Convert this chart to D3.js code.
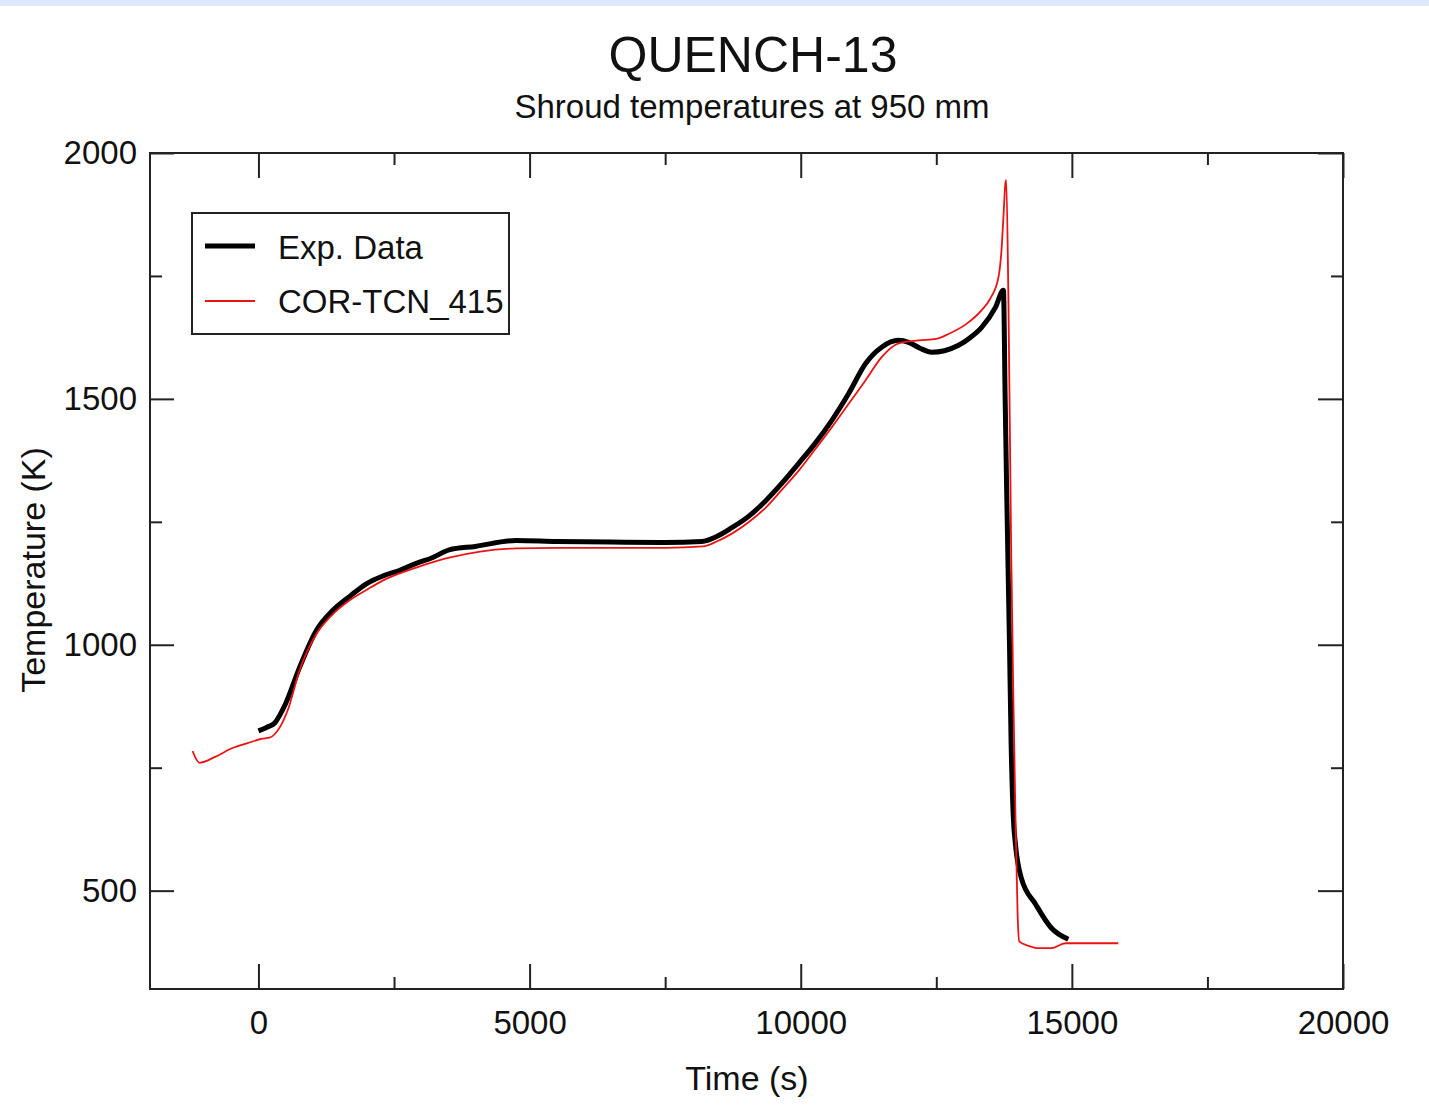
<!DOCTYPE html>
<html>
<head>
<meta charset="utf-8">
<script src="https://cdn.jsdelivr.net/npm/d3@7"></script>
<style>
  body { margin: 0; background: #fff; }
  text { font-family: "Liberation Sans", Arial, sans-serif; fill: #111; }
</style>
</head>
<body>
<div id="chart"></div>
<script>
// chart values
var expTime = [0, 150, 300, 500, 755, 1068, 1363, 1700, 1990, 2300, 2597, 2900, 3204, 3517, 4000, 4751, 5500, 6500, 7500, 8177, 8450, 8730, 9050, 9355, 9650, 9963, 10270, 10571, 10884, 11197, 11492, 11805, 11989, 12200, 12413, 12650, 12910, 13130, 13333, 13591, 13738, 13770, 13800, 13850, 13880, 13920, 13959, 14070, 14328, 14622, 14935];
var expTemp = [825, 832, 841, 880, 953, 1029, 1069, 1100, 1124, 1140, 1151, 1165, 1177, 1193, 1200, 1212, 1210, 1209, 1208, 1210, 1220, 1238, 1262, 1293, 1328, 1369, 1410, 1456, 1511, 1572, 1605, 1619, 1615, 1603, 1595, 1598, 1609, 1625, 1645, 1686, 1721, 1500, 1300, 1000, 800, 650, 595, 525, 473, 424, 401];

var corTime = [-1215, -1150, -1087, -800, -479, -200, 74, 203, 387, 550, 755, 1068, 1350, 1676, 2000, 2284, 2600, 2910, 3517, 4751, 5500, 6500, 7500, 8200, 8450, 8730, 9050, 9355, 9650, 9963, 10270, 10571, 10884, 11197, 11492, 11805, 12173, 12500, 12726, 13050, 13333, 13500, 13646, 13702, 13738, 13775, 13790, 13830, 13880, 13920, 13960, 14000, 14030, 14200, 14383, 14622, 14880, 15200, 15856];
var corTemp = [784, 768, 760, 772, 790, 800, 809, 811, 831, 870, 947, 1022, 1060, 1090, 1112, 1130, 1145, 1157, 1177, 1196, 1197, 1197, 1197, 1200, 1210, 1226, 1250, 1279, 1315, 1354, 1398, 1442, 1490, 1538, 1585, 1613, 1619, 1622, 1632, 1652, 1680, 1705, 1747, 1802, 1870, 1939, 1945, 1700, 1200, 900, 650, 450, 397, 388, 383, 383, 393, 393, 393];

var xMajor = [0, 5000, 10000, 15000, 20000];
var xMinor = [2500, 7500, 12500, 17500];
var yMajor = [500, 1000, 1500, 2000];
var yMinor = [750, 1250, 1750];

var expData = expTime.map(function(t, i) { return [t, expTemp[i]]; });
var corData = corTime.map(function(t, i) { return [t, corTemp[i]]; });

// set the dimensions and margins of the graph
var margin = {top: 153, right: 86, bottom: 130, left: 150},
    width = 1429 - margin.left - margin.right,
    height = 1119 - margin.top - margin.bottom;

var svgRoot = d3.select("#chart")
  .append("svg")
    .attr("width", 1429)
    .attr("height", 1119);

// light band at the very top of the screenshot
svgRoot.append("rect")
    .attr("x", 0).attr("y", 0)
    .attr("width", 1429).attr("height", 6)
    .style("fill", "#dde9fb");

var svg = svgRoot.append("g")
    .attr("transform", "translate(" + margin.left + "," + margin.top + ")");

var x = d3.scaleLinear().domain([-2000, 20000]).range([0, width]);
var y = d3.scaleLinear().domain([300, 2000]).range([height, 0]);

// axes, ticks inward on all four sides
function tickFmt(d) { return d; }

svg.append("g")
    .attr("class", "axis")
    .attr("transform", "translate(0," + height + ")")
    .call(d3.axisBottom(x).tickValues(xMajor).tickSize(-25).tickPadding(22).tickFormat(tickFmt));
svg.append("g")
    .attr("class", "axis")
    .attr("transform", "translate(0," + height + ")")
    .call(d3.axisBottom(x).tickValues(xMinor).tickSize(-12).tickFormat(""));
svg.append("g")
    .attr("class", "axis")
    .call(d3.axisTop(x).tickValues(xMajor).tickSize(-25).tickFormat(""));
svg.append("g")
    .attr("class", "axis")
    .call(d3.axisTop(x).tickValues(xMinor).tickSize(-12).tickFormat(""));

svg.append("g")
    .attr("class", "axis")
    .call(d3.axisLeft(y).tickValues(yMajor).tickSize(-24).tickPadding(13).tickFormat(tickFmt));
svg.append("g")
    .attr("class", "axis")
    .call(d3.axisLeft(y).tickValues(yMinor).tickSize(-12).tickFormat(""));
svg.append("g")
    .attr("class", "axis")
    .attr("transform", "translate(" + width + ",0)")
    .call(d3.axisRight(y).tickValues(yMajor).tickSize(-25).tickFormat(""));
svg.append("g")
    .attr("class", "axis")
    .attr("transform", "translate(" + width + ",0)")
    .call(d3.axisRight(y).tickValues(yMinor).tickSize(-12).tickFormat(""));

svg.selectAll(".axis path.domain").remove();
svg.selectAll(".axis line").style("stroke", "#222").style("stroke-width", 2);
svg.selectAll(".axis text").style("font-size", "33px").style("fill", "#111")
    .style("font-family", "'Liberation Sans', Arial, sans-serif");

// frame
svg.append("rect")
    .attr("x", 0).attr("y", 0)
    .attr("width", width).attr("height", height)
    .style("fill", "none")
    .style("stroke", "#222")
    .style("stroke-width", 2);

// lines
var line = d3.line()
    .x(function(d) { return x(d[0]); })
    .y(function(d) { return y(d[1]); })
    .curve(d3.curveMonotoneX);

svg.append("path")
    .attr("fill", "none")
    .attr("stroke", "#000")
    .attr("stroke-width", 5)
    .attr("stroke-linejoin", "round")
    .attr("d", line(expData));

svg.append("path")
    .attr("fill", "none")
    .attr("stroke", "#ee1111")
    .attr("stroke-width", 1.8)
    .attr("d", line(corData));

// titles
svgRoot.append("text")
    .attr("x", 753).attr("y", 72)
    .attr("text-anchor", "middle")
    .style("font-size", "50px")
    .text("QUENCH-13");
svgRoot.append("text")
    .attr("x", 752).attr("y", 118)
    .attr("text-anchor", "middle")
    .style("font-size", "33px")
    .text("Shroud temperatures at 950 mm");

svgRoot.append("text")
    .attr("x", 747).attr("y", 1090)
    .attr("text-anchor", "middle")
    .style("font-size", "34px")
    .text("Time (s)");
svgRoot.append("text")
    .attr("transform", "translate(45,570) rotate(-90)")
    .attr("text-anchor", "middle")
    .style("font-size", "34px")
    .text("Temperature (K)");

// legend
var legend = svgRoot.append("g");
legend.append("rect")
    .attr("x", 192).attr("y", 213)
    .attr("width", 317).attr("height", 121)
    .style("fill", "#fff")
    .style("stroke", "#222")
    .style("stroke-width", 2);
legend.append("line")
    .attr("x1", 205).attr("x2", 255).attr("y1", 246).attr("y2", 246)
    .style("stroke", "#000").style("stroke-width", 5);
legend.append("line")
    .attr("x1", 205).attr("x2", 255).attr("y1", 301).attr("y2", 301)
    .style("stroke", "#ee1111").style("stroke-width", 1.8);
legend.append("text")
    .attr("x", 278).attr("y", 259)
    .style("font-size", "33px")
    .text("Exp. Data");
legend.append("text")
    .attr("x", 278).attr("y", 313)
    .style("font-size", "33px")
    .text("COR-TCN_415");
</script>
</body>
</html>
